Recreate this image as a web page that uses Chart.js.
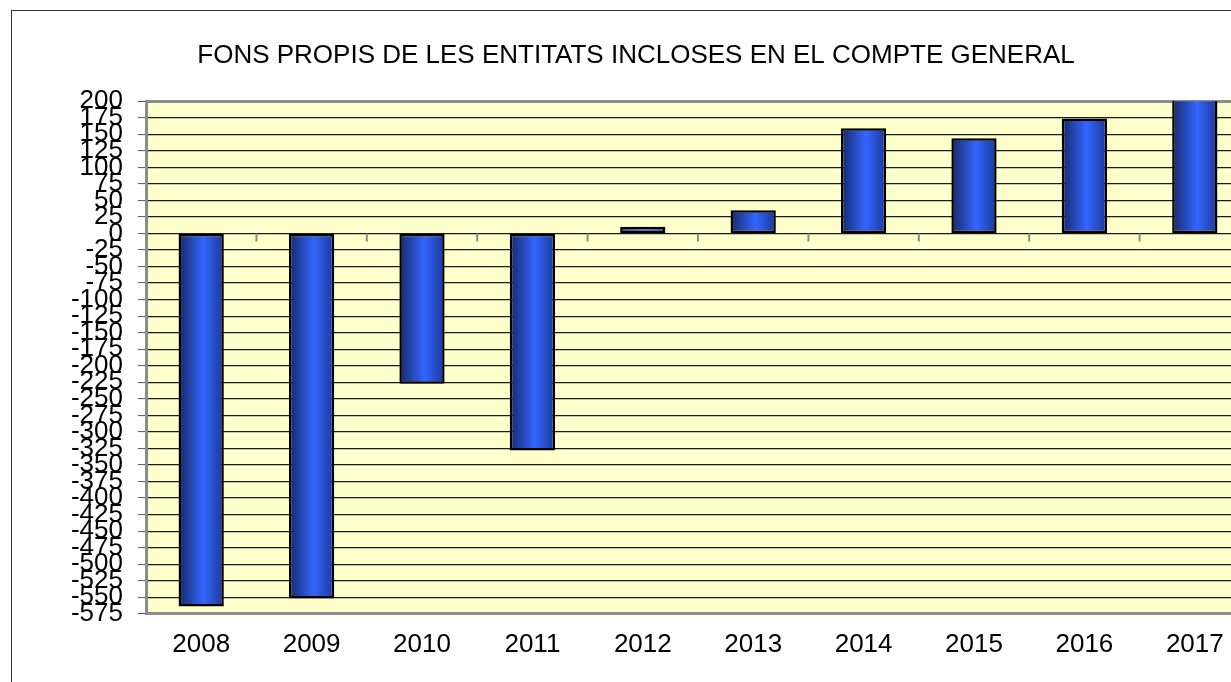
<!DOCTYPE html>
<html>
<head>
<meta charset="utf-8">
<script src="https://cdn.jsdelivr.net/npm/chart.js@4.4.0/dist/chart.umd.min.js"></script>
<style>
    html, body {
        margin: 0;
        padding: 0;
        overflow: hidden;
        background: #ffffff;
        width: 1231px;
        height: 682px;
    }

    #frame {
        position: absolute;
        left: 11px;
        top: 10px;
        width: 1400px;
        height: 800px;
        border-left: 1px solid #333;
        border-top: 1px solid #333;
        pointer-events: none;
    }

    #chart {
        position: absolute;
        left: 0;
        top: 0;
    }
</style>
</head>
<body>
<canvas id="chart" width="1272" height="682"></canvas>
<div id="frame"></div>

<script>
const years = [
    "2008",
    "2009",
    "2010",
    "2011",
    "2012",
    "2013",
    "2014",
    "2015",
    "2016",
    "2017"
];

// milions d'euros (2017 surt del gràfic per dalt)
const fonsPropis = [
    -564,
    -552,
    -227,
    -328,
    10,
    35,
    159,
    144,
    174,
    215
];

const yMin = -575;
const yMax = 200;
const yStep = 25;

const titleText = "FONS PROPIS DE LES ENTITATS INCLOSES EN EL COMPTE GENERAL";

const fontFamily = "'Liberation Sans', Arial, sans-serif";

// fons groc de l'àrea del gràfic
const plotBackground = {
    id: "plotBackground",
    beforeDraw(chart) {
        const a = chart.chartArea;
        const ctx = chart.ctx;
        ctx.save();
        ctx.fillStyle = "#ffffcc";
        ctx.fillRect(a.left, a.top, a.right - a.left, a.bottom - a.top);
        ctx.restore();
    }
};

// marques de l'eix de categories sobre la línia del zero
const zeroTicks = {
    id: "zeroTicks",
    afterDatasetsDraw(chart) {
        const x = chart.scales.x;
        const y0 = chart.scales.y.getPixelForValue(0);
        const ctx = chart.ctx;
        ctx.save();
        ctx.strokeStyle = "#8a8a8a";
        ctx.lineWidth = 2;
        for (let i = 1; i <= years.length; i++) {
            const px = (x.getPixelForValue(i - 1) + x.getPixelForValue(i)) / 2;
            ctx.beginPath();
            ctx.moveTo(px, y0);
            ctx.lineTo(px, y0 + 8);
            ctx.stroke();
        }
        ctx.restore();
    }
};

function barGradient(context) {
    const chart = context.chart;
    const x = chart.scales.x;
    if (!x || !chart.chartArea) {
        return "#3366ff";
    }
    const center = x.getPixelForValue(context.dataIndex);
    const half = (x.width / years.length) * 0.41 / 2;
    const g = chart.ctx.createLinearGradient(center - half, 0, center + half, 0);
    g.addColorStop(0, "#162868");
    g.addColorStop(0.55, "#3366ff");
    g.addColorStop(1, "#1c3896");
    return g;
}

new Chart(document.getElementById("chart"), {
    type: "bar",

    data: {
        labels: years,
        datasets: [
            {
                label: "Fons propis",
                data: fonsPropis,
                backgroundColor: barGradient,
                borderColor: "#000000",
                borderWidth: 2.5,
                borderSkipped: false,
                categoryPercentage: 1,
                barPercentage: 0.41,
                clip: 0
            }
        ]
    },

    options: {
        responsive: false,
        animation: false,
        devicePixelRatio: 1,

        layout: {
            padding: {
                left: 22,
                right: 22,
                top: 0,
                bottom: 7
            }
        },

        plugins: {
            legend: {
                display: false
            },
            tooltip: {
                enabled: false
            },
            title: {
                display: true,
                text: titleText,
                color: "#000000",
                font: {
                    family: fontFamily,
                    size: 26,
                    weight: "normal",
                    lineHeight: 1.2
                },
                padding: {
                    top: 40,
                    bottom: 30
                }
            }
        },

        scales: {
            x: {
                position: "bottom",
                grid: {
                    display: false,
                    drawTicks: false
                },
                border: {
                    display: false
                },
                ticks: {
                    color: "#000000",
                    padding: 15,
                    maxRotation: 0,
                    font: {
                        family: fontFamily,
                        size: 26,
                        lineHeight: 1.2
                    }
                }
            },

            y: {
                min: yMin,
                max: yMax,
                afterFit(scale) {
                    scale.width = 124;
                },
                grid: {
                    color(ctx) {
                        const v = ctx.tick ? ctx.tick.value : 0;
                        return (v === yMax || v === yMin) ? "#8c8c8c" : "#1a1a1a";
                    },
                    lineWidth(ctx) {
                        const v = ctx.tick ? ctx.tick.value : 0;
                        return (v === yMax || v === yMin) ? 3 : 1.2;
                    },
                    tickColor: "#555555",
                    tickLength: 8,
                    tickWidth: 1
                },
                border: {
                    display: true,
                    color: "#8c8c8c",
                    width: 3
                },
                ticks: {
                    stepSize: yStep,
                    autoSkip: false,
                    color: "#000000",
                    padding: 15,
                    font: {
                        family: fontFamily,
                        size: 26,
                        lineHeight: 1
                    }
                }
            }
        }
    },

    plugins: [plotBackground, zeroTicks]
});
</script>
</body>
</html>
